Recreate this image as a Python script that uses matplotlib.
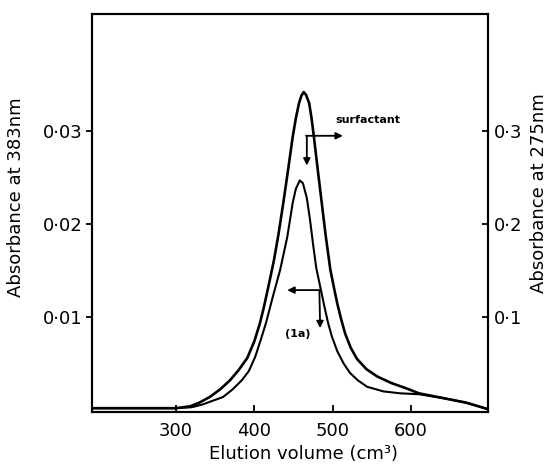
import numpy as np
import matplotlib
matplotlib.use('Agg')
import matplotlib.pyplot as plt

# Elution profile
# surfactant, absorbance at 275 nm (right axis)
vol_surf = [193, 260, 300, 318, 330, 343, 356, 369, 380, 391, 400, 407, 412, 418,
            425, 431, 437, 443, 449, 453, 457, 460, 463, 466, 470, 473, 476, 481,
            486, 491, 497, 502, 506, 511, 516, 523, 531, 543, 557, 575, 595, 610,
            640, 670, 698]
abs_surf = [0.002, 0.002, 0.002, 0.004, 0.008, 0.014, 0.022, 0.032, 0.043, 0.056,
            0.074, 0.093, 0.110, 0.133, 0.161, 0.190, 0.223, 0.258, 0.294, 0.314,
            0.330, 0.338, 0.342, 0.339, 0.330, 0.314, 0.294, 0.258, 0.223, 0.188,
            0.151, 0.130, 0.114, 0.097, 0.082, 0.067, 0.055, 0.044, 0.036, 0.029,
            0.023, 0.018, 0.013, 0.008, 0.001]

# compound (1a), absorbance at 383 nm (left axis)
vol_1a = [193, 300, 320, 334, 347, 360, 372, 384, 393, 401, 408, 415, 423, 433,
          442, 449, 453, 458, 462, 467, 471, 475, 479, 484, 489, 494, 499, 506,
          514, 522, 532, 544, 565, 586, 610, 640, 670, 698]
abs_1a = [0.0002, 0.0002, 0.0003, 0.0006, 0.0010, 0.0014, 0.0022, 0.0032, 0.0042,
          0.0057, 0.0075, 0.0094, 0.0120, 0.0151, 0.0186, 0.0223, 0.0238, 0.0247,
          0.0244, 0.0228, 0.0205, 0.0178, 0.0153, 0.0133, 0.0113, 0.0094, 0.0079,
          0.0063, 0.0050, 0.0040, 0.0032, 0.0025, 0.0020, 0.0018, 0.0017, 0.0013,
          0.0008, 0.0001]

x_ticks = [300, 400, 500, 600]
left_ticks = [0.01, 0.02, 0.03]
left_labels = ['0\u00b701', '0\u00b702', '0\u00b703']
right_ticks = [0.1, 0.2, 0.3]
right_labels = ['0\u00b71', '0\u00b72', '0\u00b73']

fig = plt.figure(figsize=(5.55, 4.67), dpi=100)
ax = fig.add_axes([0.166, 0.118, 0.713, 0.852])
ax2 = ax.twinx()

ax.plot(vol_1a, abs_1a, color='black', lw=1.5, solid_joinstyle='round')
ax2.plot(vol_surf, abs_surf, color='black', lw=1.9, solid_joinstyle='round')

ax.set_xlim(193, 698)
ax.set_ylim(-0.0002, 0.0426)
ax2.set_ylim(-0.002, 0.426)

ax.set_xticks(x_ticks)
ax.set_xticklabels([str(t) for t in x_ticks])
ax.set_yticks(left_ticks)
ax.set_yticklabels(left_labels)
ax2.set_yticks(right_ticks)
ax2.set_yticklabels(right_labels)

ax.tick_params(axis='x', direction='in', length=5, width=1.3, labelsize=13, pad=7)
ax.tick_params(axis='y', direction='out', length=4, width=1.3, labelsize=13, pad=3)
ax2.tick_params(axis='y', direction='in', length=4, width=1.3, labelsize=13, pad=4)

for a in (ax, ax2):
    for s in a.spines.values():
        s.set_linewidth(1.5)

ax.set_xlabel('Elution volume (cm\u00b3)', fontsize=13)
ax.xaxis.set_label_coords(0.535, -0.083)
ax.set_ylabel('Absorbance at 383nm', fontsize=13)
ax.yaxis.set_label_coords(-0.17, 0.54)
ax2.set_ylabel('Absorbance at 275nm', fontsize=13)
ax2.yaxis.set_label_coords(1.107, 0.55)

# surfactant arrows
arr = dict(arrowstyle='-|>', color='black', lw=1.3, mutation_scale=10, shrinkA=0, shrinkB=0)
ax.annotate('', xy=(513, 0.0295), xytext=(466, 0.0295), arrowprops=arr)
ax.annotate('', xy=(467, 0.0263), xytext=(467, 0.0295), arrowprops=arr)
ax.text(545, 0.0312, 'surfactant', fontsize=8, fontweight='bold', ha='center', va='center')

# (1a) arrows
ax.annotate('', xy=(442, 0.0129), xytext=(483, 0.0129), arrowprops=arr)
ax.annotate('', xy=(484, 0.0088), xytext=(483, 0.0129), arrowprops=arr)
ax.text(456, 0.0082, '(1a)', fontsize=8, fontweight='bold', ha='center', va='center')

plt.savefig('out.png', dpi=100)
